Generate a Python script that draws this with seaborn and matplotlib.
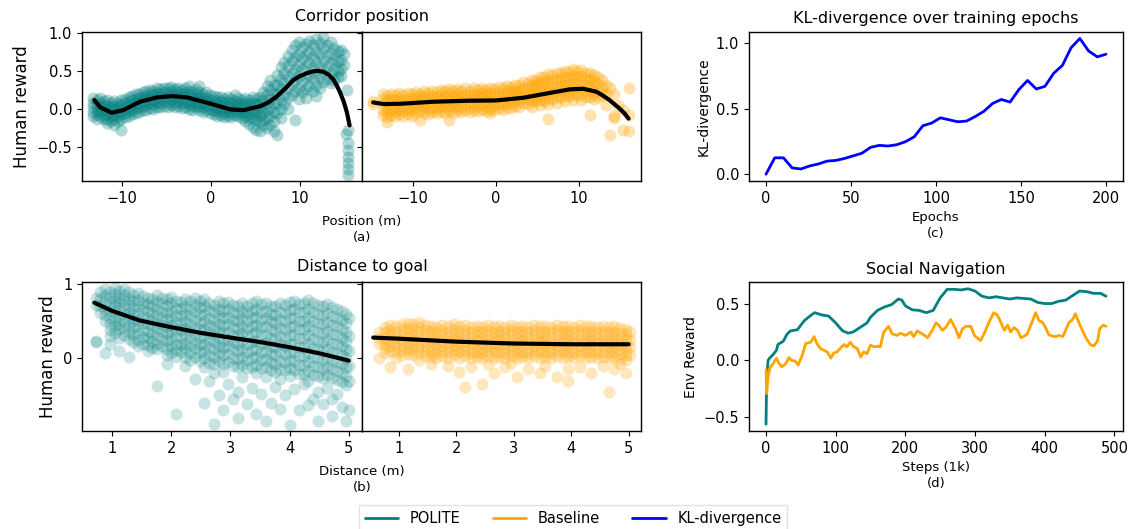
import numpy as np
import pandas as pd
import matplotlib
matplotlib.use("Agg")
import matplotlib.pyplot as plt
import seaborn as sns

# ---- (a) corridor position: scatter columns (x) with the y values seen in each column
polite_pos_cols = [-13.3, -12.9, -12.5, -12.1, -11.7, -11.3, -10.9, -10.5, -10.1, -9.7, -9.3,
                   -8.9, -8.5, -8.1, -7.7, -7.3, -6.9, -6.5, -6.1, -5.7, -5.3, -4.9, -4.5, -4.1,
                   -3.7, -3.3, -2.9, -2.5, -2.1, -1.7, -1.3, -0.9, -0.5, -0.1, 0.3, 0.7, 1.1,
                   1.5, 1.9, 2.3, 2.7, 3.1, 3.5, 3.9, 4.3, 4.7, 5.1, 5.5, 5.9, 6.3, 6.7, 7.1,
                   7.5, 7.9, 8.3, 8.7, 9.1, 9.5, 9.9, 10.3, 10.7, 11.1, 11.5, 11.9, 12.3, 12.7,
                   13.1, 13.5, 13.9, 14.3, 14.7, 15.0, 15.3, 15.4, 15.5]
polite_pos_vals = [
    [0.14, 0.08, 0.02, -0.04, -0.1], [0.11, 0.05, -0.01, -0.07, -0.13],
    [0.14, 0.08, 0.02, -0.04, -0.1], [0.1, 0.04, -0.02, -0.08, -0.14],
    [0.11, 0.05, -0.01, -0.07, -0.13, -0.19], [0.08, 0.02, -0.04, -0.1, -0.16],
    [0.1, 0.04, -0.02, -0.08, -0.14, -0.22], [0.08, 0.02, -0.04, -0.1, -0.16],
    [0.11, 0.05, -0.01, -0.07, -0.13, -0.28], [0.13, 0.07, 0.01, -0.05, -0.11],
    [0.15, 0.09, 0.03, -0.03, -0.09], [0.17, 0.11, 0.05, -0.01, -0.07],
    [0.19, 0.13, 0.07, 0.01, -0.05], [0.2, 0.14, 0.08, 0.02, -0.04],
    [0.22, 0.16, 0.1, 0.04, -0.02], [0.23, 0.17, 0.11, 0.05, -0.01],
    [0.25, 0.19, 0.13, 0.07, 0.01], [0.24, 0.18, 0.12, 0.06, 0.0],
    [0.27, 0.21, 0.15, 0.09, 0.03], [0.26, 0.2, 0.14, 0.08, 0.02],
    [0.28, 0.22, 0.16, 0.1, 0.04], [0.27, 0.21, 0.15, 0.09, 0.03],
    [0.29, 0.23, 0.17, 0.11, 0.05], [0.26, 0.2, 0.14, 0.08, 0.02],
    [0.28, 0.22, 0.16, 0.1, 0.04], [0.25, 0.19, 0.13, 0.07, 0.01],
    [0.27, 0.21, 0.15, 0.09, 0.03], [0.3, 0.24, 0.18, 0.12, 0.06, 0.0],
    [0.22, 0.16, 0.1, 0.04, -0.02], [0.26, 0.2, 0.14, 0.08, 0.02],
    [0.3, 0.22, 0.16, 0.1, 0.04, -0.02], [0.2, 0.14, 0.08, 0.02, -0.04],
    [0.22, 0.16, 0.1, 0.04, -0.02], [0.18, 0.12, 0.06, 0.0, -0.06],
    [0.17, 0.11, 0.05, -0.01, -0.07], [0.15, 0.09, 0.03, -0.03, -0.09],
    [0.16, 0.1, 0.04, -0.02, -0.08], [0.13, 0.07, 0.01, -0.05, -0.11],
    [0.15, 0.09, 0.03, -0.03, -0.09], [0.13, 0.07, 0.01, -0.05, -0.11],
    [0.18, 0.1, 0.04, -0.02, -0.08], [0.14, 0.08, 0.02, -0.04, -0.1],
    [0.12, 0.06, 0.0, -0.06, -0.12], [0.14, 0.08, 0.02, -0.04, -0.1, -0.16],
    [0.12, 0.06, 0.0, -0.06, -0.12, -0.2], [0.15, 0.08, 0.01, -0.06, -0.13, -0.24],
    [0.13, 0.06, -0.01, -0.08, -0.15, -0.28], [0.16, 0.08, 0.0, -0.08, -0.16, -0.3],
    [0.22, 0.12, 0.03, -0.06, -0.15, -0.22], [0.3, 0.18, 0.08, -0.02, -0.12, -0.26],
    [0.38, 0.25, 0.13, 0.02, -0.1, -0.22], [0.32, 0.2, 0.08, -0.04, -0.16, -0.3],
    [0.45, 0.32, 0.2, 0.08, -0.05, -0.35], [0.55, 0.4, 0.26, 0.12, 0.0, -0.12],
    [0.62, 0.48, 0.34, 0.2, 0.06], [0.7, 0.56, 0.42, 0.28, 0.14, 0.0],
    [0.78, 0.63, 0.48, 0.33, 0.18], [0.84, 0.68, 0.53, 0.38, 0.23, -0.15],
    [0.88, 0.73, 0.58, 0.43, 0.28, 0.13], [0.82, 0.67, 0.52, 0.37, 0.22],
    [0.86, 0.71, 0.56, 0.41, 0.26, 0.14], [0.9, 0.75, 0.6, 0.45, 0.3],
    [0.84, 0.69, 0.54, 0.39, 0.24], [0.92, 0.77, 0.62, 0.47, 0.32, 0.17],
    [0.87, 0.72, 0.57, 0.42, 0.27], [0.95, 0.8, 0.65, 0.5, 0.35],
    [0.85, 0.7, 0.55, 0.4], [0.88, 0.74, 0.6, 0.46, 0.34], [0.8, 0.66, 0.52, 0.38],
    [0.76, 0.63, 0.5, 0.42], [0.78, 0.65, 0.52, 0.44], [0.72, 0.58], [-0.33], [0.25],
    [-0.28, -0.45, -0.55, -0.64, -0.72, -0.8, -0.87],
]
base_pos_cols = [-14.9, -13.7, -13.2, -12.7, -12.2, -11.7, -11.2, -10.7, -10.2, -9.7, -9.2, -8.7,
                 -8.2, -7.7, -7.2, -6.7, -6.2, -5.7, -5.2, -4.7, -4.2, -3.7, -3.2, -2.7, -2.2,
                 -1.7, -1.2, -0.7, -0.2, 0.3, 0.8, 1.3, 1.8, 2.3, 2.8, 3.3, 3.8, 4.3, 4.8, 5.3,
                 5.8, 6.3, 6.8, 7.3, 7.8, 8.3, 8.8, 9.3, 9.8, 10.3, 10.8, 11.3, 11.8, 12.3,
                 12.8, 13.3, 13.8, 14.2, 14.7, 15.3, 16.0]
base_pos_vals = [
    [0.1, 0.06], [0.2, 0.13, 0.06, -0.01, -0.08], [0.17, 0.1, 0.03, -0.04, -0.11, -0.17],
    [0.2, 0.13, 0.06, -0.01, -0.08], [0.18, 0.11, 0.04, -0.03, -0.1],
    [0.21, 0.14, 0.07, 0.0, -0.07], [0.18, 0.11, 0.04, -0.03, -0.1],
    [0.21, 0.14, 0.07, 0.0, -0.07], [0.19, 0.12, 0.05, -0.02, -0.09],
    [0.22, 0.15, 0.08, 0.01, -0.06], [0.2, 0.13, 0.06, -0.01, -0.15],
    [0.23, 0.16, 0.09, 0.02, -0.05], [0.21, 0.14, 0.07, 0.0, -0.07],
    [0.24, 0.17, 0.1, 0.03, -0.04], [0.22, 0.15, 0.08, 0.01, -0.06],
    [0.25, 0.18, 0.11, 0.04, -0.03], [0.23, 0.16, 0.09, 0.02, -0.05],
    [0.26, 0.19, 0.12, 0.05, -0.02, -0.15], [0.23, 0.16, 0.09, 0.02, -0.05],
    [0.26, 0.19, 0.12, 0.05, -0.02], [0.24, 0.17, 0.1, 0.03, -0.04],
    [0.27, 0.2, 0.13, 0.06, -0.01], [0.24, 0.17, 0.1, 0.03, -0.04],
    [0.27, 0.2, 0.13, 0.06, -0.01], [0.25, 0.18, 0.11, 0.04, -0.03],
    [0.28, 0.21, 0.14, 0.07, 0.0], [0.25, 0.18, 0.11, 0.04, -0.03],
    [0.28, 0.21, 0.14, 0.07, 0.0, -0.06], [0.26, 0.19, 0.12, 0.05, -0.02],
    [0.29, 0.22, 0.15, 0.08, 0.01], [0.27, 0.2, 0.13, 0.06, -0.01],
    [0.3, 0.23, 0.16, 0.09, 0.02], [0.29, 0.22, 0.15, 0.08, 0.01],
    [0.32, 0.25, 0.18, 0.11, 0.04], [0.31, 0.24, 0.17, 0.1, 0.03],
    [0.35, 0.28, 0.21, 0.14, 0.07], [0.34, 0.27, 0.2, 0.13, 0.06],
    [0.38, 0.31, 0.24, 0.17, 0.1, 0.03], [0.38, 0.31, 0.24, 0.17, 0.1],
    [0.42, 0.35, 0.28, 0.2, 0.12, 0.05], [0.42, 0.34, 0.26, 0.18, 0.1],
    [0.46, 0.38, 0.3, 0.22, 0.14, 0.06, -0.14], [0.45, 0.37, 0.29, 0.21, 0.13],
    [0.48, 0.4, 0.32, 0.24, 0.16, 0.08], [0.47, 0.39, 0.31, 0.23, 0.15],
    [0.5, 0.42, 0.34, 0.26, 0.18, 0.1], [0.49, 0.41, 0.33, 0.25, 0.17],
    [0.52, 0.44, 0.36, 0.28, 0.2, 0.12], [0.5, 0.42, 0.34, 0.26, 0.18],
    [0.51, 0.43, 0.35, 0.27, 0.19, 0.11], [0.48, 0.4, 0.32, 0.24, 0.16],
    [0.47, 0.39, 0.31, 0.23, 0.15, -0.08], [0.45, 0.37, 0.29, 0.21, 0.13],
    [0.42, 0.33, 0.24, 0.15], [0.38, 0.28, 0.18], [0.32, 0.2, 0.05], [0.28, -0.35],
    [0.2, -0.1, -0.12], [0.05], [-0.28, -0.02], [0.27, -0.08, -0.3],
]
polite_pos_fit_x = [-13.16, -12.5, -11.2, -9.9, -8.0, -6.1, -4.4, -2.7, 0.0, 2.2, 3.7, 5.6, 6.5,
                    7.4, 8.4, 9.3, 10.0, 10.8, 11.5, 12.1, 12.7, 13.3, 13.8, 14.2, 14.6, 15.0,
                    15.35, 15.65]
polite_pos_fit_y = [0.115, 0.02, -0.053, -0.018, 0.093, 0.15, 0.168, 0.15, 0.066, -0.009, -0.018,
                    0.035, 0.085, 0.16, 0.27, 0.38, 0.43, 0.47, 0.495, 0.50, 0.49, 0.45, 0.39,
                    0.31, 0.21, 0.09, -0.05, -0.22]
base_pos_fit_x = [-14.85, -13.56, -11.6, -7.6, -3.5, 0.0, 3.3, 6.5, 8.9, 10.5, 12.1, 12.9, 13.7,
                  14.3, 14.9, 15.5, 16.0]
base_pos_fit_y = [0.084, 0.062, 0.066, 0.093, 0.106, 0.11, 0.146, 0.21, 0.257, 0.265, 0.226,
                  0.175, 0.115, 0.06, 0.004, -0.06, -0.13]

# ---- (b) distance to goal
polite_dist_cols = [0.72, 0.8, 0.88, 0.96, 1.04, 1.12, 1.2, 1.28, 1.36, 1.44, 1.52, 1.6, 1.68,
                    1.76, 1.84, 1.92, 2.0, 2.08, 2.16, 2.24, 2.32, 2.4, 2.48, 2.56, 2.64, 2.72,
                    2.8, 2.88, 2.96, 3.04, 3.12, 3.2, 3.28, 3.36, 3.44, 3.52, 3.6, 3.68, 3.76,
                    3.84, 3.92, 4.0, 4.08, 4.16, 4.24, 4.32, 4.4, 4.48, 4.56, 4.64, 4.72, 4.8,
                    4.88, 4.96, 5.0]
polite_dist_vals = [
    [0.82, 0.72, 0.22, 0.24], [0.9, 0.8, 0.7, 0.61], [0.93, 0.85, 0.76, 0.67, 0.58, 0.5, 0.07],
    [0.9, 0.82, 0.73, 0.64, 0.55, 0.46, 0.38, 0.3, 0.2],
    [0.95, 0.87, 0.78, 0.7, 0.61, 0.52, 0.43, 0.34],
    [0.91, 0.82, 0.74, 0.65, 0.56, 0.47, 0.39, 0.27, 0.1],
    [0.94, 0.86, 0.77, 0.68, 0.6, 0.5, 0.41, 0.32],
    [0.9, 0.8, 0.72, 0.63, 0.54, 0.45, 0.36, 0.26, 0.02],
    [0.86, 0.77, 0.68, 0.59, 0.5, 0.41, 0.31, 0.22],
    [0.88, 0.79, 0.7, 0.61, 0.52, 0.43, 0.34, 0.25, 0.16],
    [0.84, 0.75, 0.66, 0.57, 0.48, 0.38, 0.29, 0.2],
    [0.82, 0.73, 0.64, 0.55, 0.46, 0.36, 0.27, 0.18, 0.1],
    [0.8, 0.71, 0.61, 0.52, 0.43, 0.33, 0.24, 0.14],
    [0.86, 0.76, 0.67, 0.58, 0.48, 0.39, 0.3, 0.2, 0.12, -0.37],
    [0.82, 0.73, 0.63, 0.54, 0.45, 0.35, 0.26, 0.16],
    [0.8, 0.71, 0.61, 0.52, 0.42, 0.33, 0.23, 0.13, 0.04, -0.08],
    [0.83, 0.74, 0.64, 0.55, 0.45, 0.36, 0.26, 0.17, 0.07],
    [0.78, 0.68, 0.59, 0.49, 0.4, 0.3, 0.2, 0.11, 0.02, -0.75],
    [0.76, 0.67, 0.57, 0.47, 0.38, 0.28, 0.18, 0.08],
    [0.8, 0.7, 0.6, 0.5, 0.41, 0.31, 0.21, 0.12, 0.02, -0.1],
    [0.77, 0.67, 0.57, 0.47, 0.37, 0.27, 0.17, 0.07, -0.02],
    [0.82, 0.72, 0.62, 0.52, 0.42, 0.32, 0.22, 0.12, 0.02, -0.28],
    [0.78, 0.68, 0.58, 0.48, 0.38, 0.28, 0.18, 0.08, -0.03],
    [0.8, 0.7, 0.6, 0.5, 0.4, 0.3, 0.2, 0.1, 0.0, -0.12, -0.6],
    [0.75, 0.65, 0.55, 0.45, 0.35, 0.25, 0.15, 0.05, -0.06, -0.3],
    [0.72, 0.62, 0.52, 0.42, 0.32, 0.22, 0.12, 0.02, -0.08, -0.2, -0.88],
    [0.77, 0.67, 0.57, 0.47, 0.37, 0.27, 0.17, 0.07, -0.04, -0.5],
    [0.74, 0.64, 0.54, 0.44, 0.34, 0.24, 0.14, 0.04, -0.07, -0.18, -0.7],
    [0.76, 0.66, 0.56, 0.46, 0.36, 0.26, 0.16, 0.06, -0.05, -0.35],
    [0.72, 0.62, 0.52, 0.42, 0.32, 0.22, 0.12, 0.01, -0.1, -0.55],
    [0.7, 0.6, 0.5, 0.4, 0.3, 0.2, 0.1, -0.01, -0.12, -0.45, -0.8],
    [0.74, 0.64, 0.54, 0.44, 0.34, 0.24, 0.13, 0.02, -0.09, -0.25],
    [0.71, 0.61, 0.51, 0.41, 0.3, 0.2, 0.09, -0.02, -0.13, -0.62],
    [0.74, 0.64, 0.54, 0.43, 0.33, 0.22, 0.11, 0.0, -0.11, -0.4],
    [0.77, 0.66, 0.56, 0.45, 0.35, 0.24, 0.13, 0.02, -0.09, -0.2, -0.75],
    [0.73, 0.63, 0.52, 0.42, 0.31, 0.2, 0.09, -0.02, -0.13, -0.48],
    [0.75, 0.64, 0.54, 0.43, 0.32, 0.21, 0.1, -0.01, -0.12, -0.25, -0.85],
    [0.71, 0.6, 0.5, 0.39, 0.28, 0.17, 0.06, -0.05, -0.16, -0.6],
    [0.7, 0.59, 0.48, 0.37, 0.26, 0.15, 0.04, -0.07, -0.18, -0.38],
    [0.74, 0.63, 0.52, 0.41, 0.3, 0.19, 0.08, -0.03, -0.14, -0.28, -0.68],
    [0.72, 0.61, 0.5, 0.39, 0.28, 0.17, 0.06, -0.05, -0.16, -0.5],
    [0.76, 0.65, 0.54, 0.42, 0.31, 0.2, 0.09, -0.02, -0.13, -0.24, -0.9],
    [0.78, 0.67, 0.55, 0.44, 0.32, 0.2, 0.08, -0.04, -0.16, -0.42],
    [0.73, 0.62, 0.5, 0.39, 0.27, 0.15, 0.03, -0.09, -0.21, -0.7],
    [0.75, 0.63, 0.51, 0.39, 0.27, 0.15, 0.03, -0.09, -0.21, -0.35],
    [0.79, 0.67, 0.55, 0.43, 0.31, 0.19, 0.07, -0.05, -0.17, -0.3, -0.63],
    [0.74, 0.62, 0.5, 0.38, 0.26, 0.14, 0.02, -0.1, -0.22, -0.55],
    [0.72, 0.6, 0.48, 0.36, 0.24, 0.12, 0.0, -0.12, -0.24, -0.45, -0.85],
    [0.7, 0.58, 0.46, 0.34, 0.22, 0.1, -0.02, -0.14, -0.26, -0.62],
    [0.73, 0.61, 0.49, 0.37, 0.25, 0.13, 0.01, -0.11, -0.23, -0.4],
    [0.69, 0.57, 0.45, 0.33, 0.21, 0.09, -0.03, -0.15, -0.27, -0.55, -0.78],
    [0.67, 0.55, 0.43, 0.31, 0.19, 0.07, -0.05, -0.17, -0.29, -0.48],
    [0.64, 0.52, 0.4, 0.28, 0.16, 0.04, -0.08, -0.2, -0.32, -0.65],
    [0.6, 0.48, 0.36, 0.24, 0.12, 0.0, -0.12, -0.24, -0.36, -0.85],
    [0.55, 0.3, 0.1, -0.1, -0.3, -0.7],
]
base_dist_cols = [0.65, 0.75, 0.85, 0.95, 1.05, 1.15, 1.25, 1.35, 1.45, 1.55, 1.65, 1.75, 1.85,
                  1.95, 2.05, 2.15, 2.25, 2.35, 2.45, 2.55, 2.65, 2.75, 2.85, 2.95, 3.05, 3.15,
                  3.25, 3.35, 3.45, 3.55, 3.65, 3.75, 3.85, 3.95, 4.05, 4.15, 4.25, 4.35, 4.45,
                  4.55, 4.65, 4.75, 4.85, 4.95, 5.02]
base_dist_vals = [
    [0.36, 0.28, 0.2, 0.0], [0.42, 0.35, 0.28, 0.21, 0.14, 0.07],
    [0.45, 0.38, 0.31, 0.24, 0.17, 0.1, -0.12], [0.43, 0.36, 0.29, 0.22, 0.15, 0.08, 0.01],
    [0.46, 0.39, 0.32, 0.25, 0.18, 0.11, 0.04], [0.48, 0.41, 0.34, 0.27, 0.2, 0.13, 0.06, -0.15],
    [0.46, 0.39, 0.32, 0.25, 0.18, 0.11, 0.04], [0.49, 0.42, 0.35, 0.28, 0.21, 0.14, 0.07, -0.02],
    [0.45, 0.38, 0.31, 0.24, 0.17, 0.1, 0.03], [0.44, 0.37, 0.3, 0.23, 0.16, 0.09, 0.02, -0.08],
    [0.42, 0.35, 0.28, 0.21, 0.14, 0.07, 0.0], [0.45, 0.38, 0.31, 0.24, 0.17, 0.1, 0.03],
    [0.43, 0.36, 0.29, 0.22, 0.15, 0.08, 0.01, -0.1], [0.46, 0.39, 0.32, 0.25, 0.18, 0.11, 0.04],
    [0.43, 0.36, 0.29, 0.22, 0.15, 0.08, 0.01, -0.18],
    [0.45, 0.38, 0.31, 0.24, 0.17, 0.1, 0.03, -0.38],
    [0.42, 0.35, 0.28, 0.21, 0.14, 0.07, 0.0, -0.12], [0.44, 0.37, 0.3, 0.23, 0.16, 0.09, 0.02],
    [0.42, 0.35, 0.28, 0.21, 0.14, 0.07, 0.0, -0.34],
    [0.45, 0.38, 0.31, 0.24, 0.17, 0.1, 0.03, -0.08],
    [0.43, 0.36, 0.29, 0.22, 0.15, 0.08, 0.01, -0.2], [0.44, 0.37, 0.3, 0.23, 0.16, 0.09, 0.02],
    [0.42, 0.35, 0.28, 0.21, 0.14, 0.07, 0.0, -0.12],
    [0.45, 0.38, 0.31, 0.24, 0.17, 0.1, 0.03, -0.06],
    [0.42, 0.35, 0.28, 0.21, 0.14, 0.07, 0.0, -0.25], [0.44, 0.37, 0.3, 0.23, 0.16, 0.09, 0.02],
    [0.42, 0.35, 0.28, 0.21, 0.14, 0.07, 0.0, -0.14], [0.45, 0.38, 0.31, 0.24, 0.17, 0.1, 0.03],
    [0.43, 0.36, 0.29, 0.22, 0.15, 0.08, 0.01, -0.2],
    [0.44, 0.37, 0.3, 0.23, 0.16, 0.09, 0.02, -0.1], [0.42, 0.35, 0.28, 0.21, 0.14, 0.07, 0.0],
    [0.45, 0.38, 0.31, 0.24, 0.17, 0.1, 0.03, -0.25], [0.43, 0.36, 0.29, 0.22, 0.15, 0.08, 0.01],
    [0.44, 0.37, 0.3, 0.23, 0.16, 0.09, 0.02, -0.15, -0.3],
    [0.42, 0.35, 0.28, 0.21, 0.14, 0.07, 0.0], [0.45, 0.38, 0.31, 0.24, 0.17, 0.1, 0.03, -0.12],
    [0.43, 0.36, 0.29, 0.22, 0.15, 0.08, 0.01], [0.44, 0.37, 0.3, 0.23, 0.16, 0.09, 0.02, -0.2],
    [0.42, 0.35, 0.28, 0.21, 0.14, 0.07, 0.0], [0.44, 0.37, 0.3, 0.23, 0.16, 0.09, 0.02, -0.1],
    [0.42, 0.35, 0.28, 0.21, 0.14, 0.07, 0.0, -0.46],
    [0.43, 0.36, 0.29, 0.22, 0.15, 0.08, 0.01, -0.15],
    [0.41, 0.34, 0.27, 0.2, 0.13, 0.06, -0.01, -0.08],
    [0.4, 0.33, 0.26, 0.19, 0.12, 0.05, -0.02, -0.2], [0.35, 0.25, 0.15, 0.05],
]
polite_dist_fit_x = [0.7, 1.0, 1.47, 2.0, 2.49, 3.0, 3.5, 4.0, 4.51, 5.0]
polite_dist_fit_y = [0.75, 0.64, 0.51, 0.42, 0.345, 0.28, 0.22, 0.15, 0.067, -0.03]
base_dist_fit_x = [0.55, 1.0, 2.0, 3.0, 4.0, 5.0]
base_dist_fit_y = [0.28, 0.265, 0.225, 0.2, 0.19, 0.19]

# ---- (c) KL-divergence
kl_epochs = [0, 5.13, 10.26, 15.38, 20.51, 25.64, 30.77, 35.9, 41.03, 46.15, 51.28, 56.41, 61.54,
             66.67, 71.79, 76.92, 82.05, 87.18, 92.31, 97.44, 102.56, 107.69, 112.82, 117.95,
             123.08, 128.21, 133.33, 138.46, 143.59, 148.72, 153.85, 158.97, 164.1, 169.23,
             174.36, 179.49, 184.62, 189.74, 194.87, 200]
kl_values = [0.0, 0.125, 0.125, 0.048, 0.04, 0.063, 0.078, 0.10, 0.105, 0.12, 0.14, 0.16, 0.205,
             0.22, 0.215, 0.225, 0.248, 0.285, 0.37, 0.39, 0.43, 0.415, 0.40, 0.405, 0.44, 0.48,
             0.54, 0.57, 0.55, 0.645, 0.715, 0.65, 0.67, 0.77, 0.83, 0.965, 1.035, 0.94, 0.895, 0.915]

# ---- (d) social navigation
polite_steps = [0, 1, 3, 5, 10, 15, 17, 25, 30, 35, 45, 55, 65, 70, 80, 90, 95, 100, 110, 118,
                125, 135, 145, 150, 160, 170, 180, 190, 195, 200, 210, 220, 230, 240, 250, 260,
                270, 280, 290, 300, 310, 320, 330, 340, 350, 360, 370, 380, 390, 400, 410, 420,
                430, 440, 450, 460, 470, 480, 488]
polite_reward = [-0.56, -0.15, 0.0, 0.02, 0.05, 0.09, 0.14, 0.17, 0.23, 0.26, 0.27, 0.35, 0.40,
                 0.42, 0.40, 0.39, 0.36, 0.33, 0.26, 0.24, 0.25, 0.29, 0.33, 0.38, 0.44, 0.47,
                 0.49, 0.54, 0.53, 0.48, 0.445, 0.44, 0.42, 0.44, 0.55, 0.625, 0.625, 0.62, 0.63,
                 0.61, 0.565, 0.55, 0.56, 0.55, 0.54, 0.55, 0.545, 0.54, 0.51, 0.50, 0.50, 0.52,
                 0.53, 0.57, 0.61, 0.605, 0.59, 0.59, 0.565]
base_steps = [0, 1, 3, 6, 10, 15, 18, 23, 28, 33, 37, 42, 46, 52, 57, 64, 69, 73, 78, 83, 88, 93,
              97, 102, 107, 112, 116, 121, 126, 131, 136, 140, 145, 150, 155, 160, 164, 169, 176,
              181, 188, 193, 200, 208, 212, 217, 224, 232, 239, 244, 248, 253, 258, 265, 272,
              277, 282, 287, 294, 299, 303, 308, 313, 320, 327, 332, 337, 342, 347, 351, 356,
              361, 366, 371, 375, 380, 387, 392, 397, 402, 406, 411, 416, 421, 426, 430, 435,
              440, 444, 449, 454, 460, 466, 471, 476, 479, 484, 488]
base_reward = [-0.08, -0.29, -0.14, -0.06, -0.03, 0.02, -0.02, -0.055, -0.03, 0.025, 0.0, -0.005,
               -0.04, 0.045, 0.15, 0.16, 0.21, 0.15, 0.105, 0.09, 0.075, 0.02, 0.065, 0.075, 0.11,
               0.14, 0.12, 0.16, 0.12, 0.105, 0.03, 0.075, 0.06, 0.135, 0.12, 0.125, 0.12, 0.25,
               0.30, 0.235, 0.22, 0.24, 0.22, 0.25, 0.21, 0.26, 0.235, 0.20, 0.27, 0.33, 0.31,
               0.265, 0.29, 0.36, 0.28, 0.20, 0.28, 0.30, 0.30, 0.22, 0.20, 0.175, 0.235, 0.335,
               0.42, 0.40, 0.335, 0.265, 0.31, 0.25, 0.29, 0.265, 0.20, 0.215, 0.235, 0.31, 0.42,
               0.35, 0.335, 0.28, 0.225, 0.215, 0.21, 0.22, 0.21, 0.265, 0.335, 0.36, 0.41, 0.335,
               0.265, 0.19, 0.135, 0.13, 0.175, 0.28, 0.31, 0.30]

TEAL = "teal"
ORANGE = "orange"


def columns_to_frame(cols, vals):
    xs, ys = [], []
    for x, col in zip(cols, vals):
        xs += [x] * len(col)
        ys += col
    return pd.DataFrame({"x": xs, "y": ys})


def scatter_with_fit(ax, cols, vals, fit_x, fit_y, color, alpha):
    df = columns_to_frame(cols, vals)
    sns.scatterplot(data=df, x="x", y="y", color=color, alpha=alpha, s=75,
                    linewidth=0, ax=ax, legend=False)
    sns.lineplot(x=fit_x, y=fit_y, color="black", linewidth=3, ax=ax)
    ax.set_xlabel("")
    ax.set_ylabel("")


sns.set_style("ticks")
plt.rcParams["font.family"] = ["DejaVu Sans"]
plt.rcParams.update({
    "text.color": "black",
    "axes.labelcolor": "black",
    "xtick.color": "black",
    "ytick.color": "black",
})
TICK = 10.5

fig = plt.figure(figsize=(11.3, 5.29), dpi=100)
W, H = 1130, 529


def box(x0, x1, y0, y1):
    return [x0 / W, (H - y1) / H, (x1 - x0) / W, (y1 - y0) / H]


ax_a1 = fig.add_axes(box(82, 362, 31.7, 181))
ax_a2 = fig.add_axes(box(362, 641, 31.7, 181), sharey=ax_a1)
ax_c = fig.add_axes(box(749, 1123, 31.7, 181))
ax_b1 = fig.add_axes(box(82, 362, 282, 431))
ax_b2 = fig.add_axes(box(362, 641, 282, 431), sharey=ax_b1)
ax_d = fig.add_axes(box(749, 1123, 282, 431))

# (a)
scatter_with_fit(ax_a1, polite_pos_cols, polite_pos_vals, polite_pos_fit_x, polite_pos_fit_y, TEAL, 0.3)
scatter_with_fit(ax_a2, base_pos_cols, base_pos_vals, base_pos_fit_x, base_pos_fit_y, ORANGE, 0.32)
ax_a1.set_xlim(-14.55, 17.05)
ax_a2.set_xlim(-16.2, 17.5)
ax_a1.set_ylim(-0.956, 1.02)
ax_a1.set_yticks([-0.5, 0.0, 0.5, 1.0])
for ax in (ax_a1, ax_a2):
    ax.set_xticks([-10, 0, 10])
ax_a1.set_ylabel("Human reward", fontsize=12)
fig.text(362 / W, 1 - 17 / H, "Corridor position", ha="center", va="center", fontsize=11.5)
fig.text(362 / W, 1 - 229.5 / H, "Position (m)\n(a)", ha="center", va="center",
         fontsize=9.5, linespacing=1.25)

# (b)
scatter_with_fit(ax_b1, polite_dist_cols, polite_dist_vals, polite_dist_fit_x, polite_dist_fit_y, TEAL, 0.22)
scatter_with_fit(ax_b2, base_dist_cols, base_dist_vals, base_dist_fit_x, base_dist_fit_y, ORANGE, 0.26)
ax_b1.set_xlim(0.49, 5.225)
ax_b2.set_xlim(0.355, 5.215)
ax_b1.set_ylim(-0.98, 1.03)
ax_b1.set_yticks([0, 1])
for ax in (ax_b1, ax_b2):
    ax.set_xticks([1, 2, 3, 4, 5])
ax_b1.set_ylabel("Human reward", fontsize=12)
fig.text(362 / W, 1 - 267 / H, "Distance to goal", ha="center", va="center", fontsize=11.5)
fig.text(362 / W, 1 - 479.5 / H, "Distance (m)\n(b)", ha="center", va="center",
         fontsize=9.5, linespacing=1.25)

for ax in (ax_a2, ax_b2):
    ax.tick_params(labelleft=False)

# (c)
sns.lineplot(x=kl_epochs, y=kl_values, color="blue", linewidth=2, ax=ax_c, label="KL-divergence")
ax_c.set_xticks([0, 50, 100, 150, 200])
ax_c.set_yticks([0.0, 0.5, 1.0])
ax_c.set_title("KL-divergence over training epochs", fontsize=11.5, pad=6)
ax_c.set_xlabel("Epochs\n(c)", fontsize=9.5, linespacing=1.25)
ax_c.set_ylabel("KL-divergence", fontsize=10)

# (d)
sns.lineplot(x=polite_steps, y=polite_reward, color=TEAL, linewidth=2, ax=ax_d, label="POLITE")
sns.lineplot(x=base_steps, y=base_reward, color=ORANGE, linewidth=2, ax=ax_d, label="Baseline")
ax_d.set_xticks([0, 100, 200, 300, 400, 500])
ax_d.set_yticks([-0.5, 0.0, 0.5])
ax_d.set_title("Social Navigation", fontsize=11.5, pad=6)
ax_d.set_xlabel("Steps (1k)\n(d)", fontsize=9.5, linespacing=1.25)
ax_d.set_ylabel("Env Reward", fontsize=10)

for ax in (ax_a1, ax_a2, ax_b1, ax_b2, ax_c, ax_d):
    ax.tick_params(labelsize=TICK, colors="black")
    for s in ax.spines.values():
        s.set_color("black")
        s.set_linewidth(1.0)

handles, labels = ax_d.get_legend_handles_labels()
h2, l2 = ax_c.get_legend_handles_labels()
for ax in (ax_c, ax_d):
    if ax.get_legend() is not None:
        ax.get_legend().remove()
leg = fig.legend(handles + h2, labels + l2, loc="upper center", bbox_to_anchor=(573 / W, 24 / H),
                 borderaxespad=0, ncol=3, fontsize=10.5, frameon=True, handlelength=2.3,
                 columnspacing=2.2, fancybox=False)
leg.get_frame().set_edgecolor("#dddddd")

fig.savefig("out.png", dpi=100)
